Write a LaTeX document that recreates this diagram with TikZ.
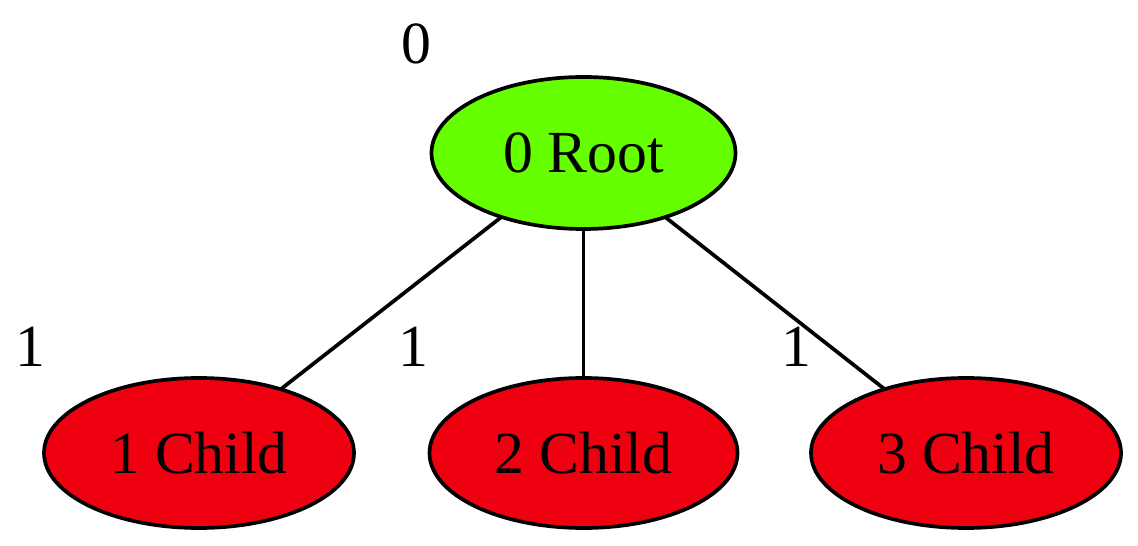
\documentclass[tikz,border=0pt]{standalone}
\usepackage{fontspec}
\setmainfont{Liberation Serif}
\usetikzlibrary{shapes.geometric}
\definecolor{rootgreen}{HTML}{66FF00}
\definecolor{childred}{HTML}{EE0011}
\begin{document}
\begin{tikzpicture}[x=0.02cm,y=-0.02cm,
  every node/.style={font=\fontsize{34}{40}\selectfont},
  vert/.style={ellipse, draw=black, line width=2.1pt, inner sep=0pt, outer sep=0pt},
  edge/.style={line width=2.1pt, black},
  lbl/.style={inner sep=0pt}]
\useasboundingbox (0,0) rectangle (1138,546);
\node[vert, fill=rootgreen, minimum width=304*0.02cm, minimum height=152*0.02cm] (r) at (583.5,153) {0 Root};
\node[vert, fill=childred, minimum width=310*0.02cm, minimum height=150*0.02cm] (c1) at (199,453) {1 Child};
\node[vert, fill=childred, minimum width=308*0.02cm, minimum height=150*0.02cm] (c2) at (583.5,453) {2 Child};
\node[vert, fill=childred, minimum width=310*0.02cm, minimum height=150*0.02cm] (c3) at (966,453) {3 Child};
\draw[edge] (r) -- (c1);
\draw[edge] (r) -- (c2);
\draw[edge] (r) -- (c3);
\node[lbl] (l0) at (416,44) {0};
\node[lbl] (l1) at (30,347) {1};
\node[lbl] (l2) at (413,347) {1};
\node[lbl] (l3) at (796,347) {1};
\end{tikzpicture}
\end{document}
